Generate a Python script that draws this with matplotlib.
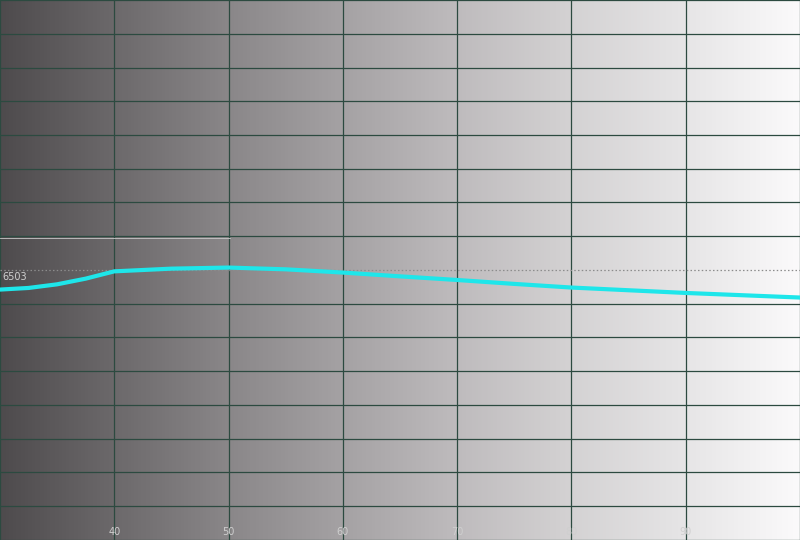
import numpy as np
import matplotlib
matplotlib.use("Agg")
import matplotlib.pyplot as plt
from matplotlib.colors import LinearSegmentedColormap

# Data
ire = [30, 32.5, 35, 37.5, 40, 45, 50, 55, 60, 65, 70, 75, 80, 85, 90, 95, 100]
cct = [6358, 6370, 6397, 6439, 6493, 6513, 6521, 6508, 6484, 6456, 6429, 6400,
       6373, 6353, 6333, 6316, 6299]
ref_temp = 6503
x_ticks = [40, 50, 60, 70, 80, 90]
x_tick_labels = ["40", "50", "60", "70", "80", "90"]

x_min, x_max = 30, 100
y_min, y_max = 4503, 8503

fig = plt.figure(figsize=(8, 5.4), dpi=100)
ax = fig.add_axes([0, 0, 1, 1])
ax.set_xlim(x_min, x_max)
ax.set_ylim(y_min, y_max)

# gradient background
bg = LinearSegmentedColormap.from_list(
    "bg",
    [(0.0, "#4e4b4d"), (0.143, "#6c696b"), (0.286, "#8a8789"), (0.43, "#a5a2a4"),
     (0.571, "#bebbbd"), (0.714, "#d4d2d3"), (0.857, "#e6e5e6"), (1.0, "#fbfafb")])
grad = np.linspace(0, 1, 512).reshape(1, -1)
ax.imshow(grad, cmap=bg, aspect="auto", extent=[x_min, x_max, y_min, y_max],
          zorder=0, interpolation="bilinear")

grid_col = "#2c4a40"
for xv in np.arange(x_min, x_max + 0.1, 10):
    ax.axvline(xv, color=grid_col, lw=0.9, zorder=1)
for i, yv in enumerate(np.linspace(y_min, y_max, 17)):
    if i == 8:
        continue
    ax.axhline(yv, color=grid_col, lw=0.9, zorder=1)

# faint extra line near the 7th row
ax.plot([x_min, 50.1], [6503 + 235, 6503 + 235], color="#c8c8c8", lw=0.6, zorder=1)

# reference dotted line
ax.axhline(ref_temp, color="#8c8c8c", lw=0.9, ls=(0, (1.2, 1.8)), zorder=2)
ax.text(30.25, ref_temp - 15, "6503", color="#d0d0d0", fontsize=7,
        ha="left", va="top", zorder=3)

# curve
ax.plot(ire, cct, color="#1ee6ea", lw=3, solid_capstyle="round", zorder=4)

# tick labels inside bottom
for xv, lab in zip(x_ticks, x_tick_labels):
    ax.text(xv, y_min + 25, lab, color="#cfcfcf", fontsize=7, ha="center",
            va="bottom", zorder=3)

ax.set_axis_off()
fig.savefig("out.png", dpi=100)
